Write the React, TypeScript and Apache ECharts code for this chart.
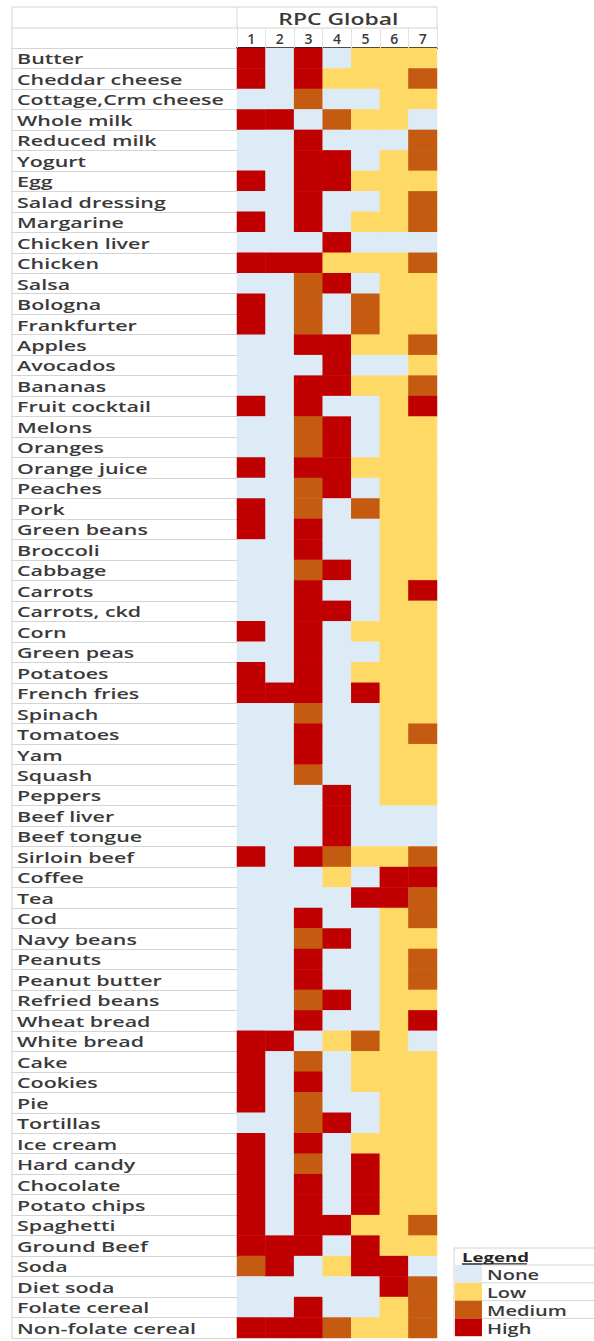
import React, { useEffect, useRef } from "react";
import * as echarts from "echarts";

// Food items, top to bottom
const foods = [
  "Butter", "Cheddar cheese", "Cottage,Crm cheese", "Whole milk", "Reduced milk",
  "Yogurt", "Egg", "Salad dressing", "Margarine", "Chicken liver",
  "Chicken", "Salsa", "Bologna", "Frankfurter", "Apples",
  "Avocados", "Bananas", "Fruit cocktail", "Melons", "Oranges",
  "Orange juice", "Peaches", "Pork", "Green beans", "Broccoli",
  "Cabbage", "Carrots", "Carrots, ckd", "Corn", "Green peas",
  "Potatoes", "French fries", "Spinach", "Tomatoes", "Yam",
  "Squash", "Peppers", "Beef liver", "Beef tongue", "Sirloin beef",
  "Coffee", "Tea", "Cod", "Navy beans", "Peanuts",
  "Peanut butter", "Refried beans", "Wheat bread", "White bread", "Cake",
  "Cookies", "Pie", "Tortillas", "Ice cream", "Hard candy",
  "Chocolate", "Potato chips", "Spaghetti", "Ground Beef", "Soda",
  "Diet soda", "Folate cereal", "Non-folate cereal",
];

const rpcColumns = ["1", "2", "3", "4", "5", "6", "7"];
const levelNames = ["None", "Low", "Medium", "High"];
const levelColors = ["#DDEBF7", "#FFD966", "#C55A11", "#C00000"];

// Level per food for each RPC column: 0 None, 1 Low, 2 Medium, 3 High
const rpc1 = [3,3,0,3,0,0,3,0,3,0, 3,0,3,3,0,0,0,3,0,0, 3,0,3,3,0,0,0,0,3,0, 3,3,0,0,0,0,0,0,0,3, 0,0,0,0,0,0,0,0,3,3, 3,3,0,3,3,3,3,3,3,2, 0,0,3];
const rpc2 = [0,0,0,3,0,0,0,0,0,0, 3,0,0,0,0,0,0,0,0,0, 0,0,0,0,0,0,0,0,0,0, 0,3,0,0,0,0,0,0,0,0, 0,0,0,0,0,0,0,0,3,0, 0,0,0,0,0,0,0,0,3,3, 0,0,3];
const rpc3 = [3,3,2,0,3,3,3,3,3,0, 3,2,2,2,3,0,3,3,2,2, 3,2,2,3,3,2,3,3,3,3, 3,3,2,3,3,2,0,0,0,3, 0,0,3,2,3,3,2,3,0,2, 3,2,2,3,2,3,3,3,3,0, 0,3,3];
const rpc4 = [0,1,0,2,0,3,3,0,0,3, 1,3,0,0,3,3,3,0,3,3, 3,3,0,0,0,3,0,3,0,0, 0,0,0,0,0,0,3,3,3,2, 1,0,0,3,0,0,3,0,1,0, 0,0,3,0,0,0,0,3,0,1, 0,0,2];
const rpc5 = [1,1,0,1,0,0,1,0,1,0, 1,0,2,2,1,0,1,0,0,0, 1,0,2,0,0,0,0,0,1,0, 1,3,0,0,0,0,0,0,0,1, 0,3,0,0,0,0,0,0,2,1, 1,0,0,1,3,3,3,1,3,3, 0,0,1];
const rpc6 = [1,1,1,1,0,1,1,1,1,0, 1,1,1,1,1,0,1,1,1,1, 1,1,1,1,1,1,1,1,1,1, 1,1,1,1,1,1,1,0,0,1, 3,3,1,1,1,1,1,1,1,1, 1,1,1,1,1,1,1,1,1,3, 3,1,1];
const rpc7 = [1,2,1,0,2,2,1,2,2,0, 2,1,1,1,2,1,2,3,1,1, 1,1,1,1,1,1,3,1,1,1, 1,1,1,2,1,1,1,0,0,2, 3,2,2,1,2,2,1,3,0,1, 1,1,1,1,1,1,1,2,1,0, 2,2,2];

const rpcValues = [rpc1, rpc2, rpc3, rpc4, rpc5, rpc6, rpc7];

const TEXT_COLOR = "#3a3a3a";
const RULE_COLOR = "#d4d4d4";
const FONT = "'Open Sans', 'DejaVu Sans', sans-serif";
const STRETCH = 1.43;

export default function App() {
  const ref = useRef<HTMLDivElement>(null);

  useEffect(() => {
    if (!ref.current) return;
    const chart = echarts.init(ref.current, null, { renderer: "svg" });

    const cells: number[][] = [];
    rpcValues.forEach((col, x) => col.forEach((v, y) => cells.push([x, y, v])));

    const gridLeft = 237;
    const gridTop = 48;
    const gridWidth = 200;
    const gridHeight = 1290;
    const tableLeft = 12;
    const tableTop = 7;
    const headerSplit = 28;

    chart.setOption({
      animation: false,
      backgroundColor: "#ffffff",
      grid: { left: gridLeft, top: gridTop, width: gridWidth, height: gridHeight },
      xAxis: {
        type: "category",
        position: "top",
        data: rpcColumns,
        axisLine: { show: true, lineStyle: { color: "#1e1e1e", width: 2 } },
        axisTick: { show: true, interval: 0, length: gridTop - headerSplit, lineStyle: { color: "#e2e2e2" } },
        axisLabel: { color: TEXT_COLOR, fontSize: 14, fontWeight: 600, fontFamily: FONT, margin: 3 },
        splitLine: { show: false },
      },
      yAxis: {
        type: "category",
        inverse: true,
        data: foods,
        axisLine: { show: true, lineStyle: { color: RULE_COLOR } },
        axisTick: { show: true, interval: 0, length: gridLeft - tableLeft, lineStyle: { color: RULE_COLOR } },
        axisLabel: { show: false },
        splitLine: { show: false },
      },
      visualMap: {
        type: "piecewise",
        show: false,
        dimension: 2,
        pieces: levelNames.map((name, i) => ({ value: i, label: name, color: levelColors[i] })),
      },
      series: [
        {
          type: "heatmap",
          data: cells,
          itemStyle: { borderWidth: 0 },
          emphasis: { disabled: true },
        },
      ],
    });

    // Row labels placed on the category positions of the y axis
    const labelTexts = foods.map((food) => {
      const y = chart.convertToPixel({ yAxisIndex: 0 }, food) as number;
      return {
        type: "text",
        x: 17,
        y,
        scaleX: STRETCH,
        silent: true,
        style: {
          text: food,
          fill: TEXT_COLOR,
          fontSize: 15,
          fontWeight: 600,
          fontFamily: FONT,
          verticalAlign: "middle",
          align: "left",
        },
      };
    });

    const headerCenter = chart.convertToPixel({ xAxisIndex: 0 }, rpcColumns[3]) as number;

    // Table frame around labels and header
    const frame = [
      { type: "line", shape: { x1: tableLeft, y1: tableTop, x2: gridLeft + gridWidth, y2: tableTop } },
      { type: "line", shape: { x1: tableLeft, y1: headerSplit, x2: gridLeft + gridWidth, y2: headerSplit } },
      { type: "line", shape: { x1: tableLeft, y1: tableTop, x2: tableLeft, y2: gridTop + gridHeight } },
      { type: "line", shape: { x1: gridLeft, y1: tableTop, x2: gridLeft, y2: headerSplit } },
      { type: "line", shape: { x1: gridLeft + gridWidth, y1: tableTop, x2: gridLeft + gridWidth, y2: headerSplit } },
    ].map((l) => ({ ...l, silent: true, style: { stroke: RULE_COLOR, lineWidth: 1 } }));

    const header = {
      type: "text",
      x: headerCenter - (82 * STRETCH) / 2,
      y: (tableTop + headerSplit) / 2 + 1,
      scaleX: STRETCH,
      silent: true,
      style: {
        text: "RPC Global",
        fill: TEXT_COLOR,
        fontSize: 16,
        fontWeight: 600,
        fontFamily: FONT,
        verticalAlign: "middle",
        align: "left",
      },
    };

    // Legend box
    const lgLeft = 454;
    const lgTop = 1248;
    const lgHeaderH = 17;
    const lgRowH = 17.8;
    const swatchW = 28;
    const lgRight = 600;
    const legendChildren: any[] = [];
    legendChildren.push({
      type: "line",
      shape: { x1: lgLeft, y1: lgTop, x2: lgRight, y2: lgTop },
      style: { stroke: RULE_COLOR, lineWidth: 1 },
    });
    legendChildren.push({
      type: "line",
      shape: { x1: lgLeft, y1: lgTop, x2: lgLeft, y2: lgTop + lgHeaderH + lgRowH * 4 },
      style: { stroke: RULE_COLOR, lineWidth: 1 },
    });
    legendChildren.push({
      type: "text",
      x: lgLeft + 8,
      y: lgTop + lgHeaderH / 2 + 1,
      scaleX: STRETCH,
      style: {
        text: "Legend",
        fill: "#262626",
        fontSize: 13,
        fontWeight: 700,
        fontFamily: FONT,
        verticalAlign: "middle",
        align: "left",
      },
    });
    legendChildren.push({
      type: "line",
      shape: { x1: lgLeft + 8, y1: lgTop + lgHeaderH - 1, x2: lgLeft + 73, y2: lgTop + lgHeaderH - 1 },
      style: { stroke: "#262626", lineWidth: 1.5 },
    });
    levelNames.forEach((name, i) => {
      const top = lgTop + lgHeaderH + i * lgRowH;
      legendChildren.push({
        type: "rect",
        shape: { x: lgLeft + 1, y: top, width: swatchW - 1, height: lgRowH },
        style: { fill: levelColors[i] },
      });
      legendChildren.push({
        type: "line",
        shape: { x1: lgLeft + swatchW, y1: top, x2: lgRight, y2: top },
        style: { stroke: RULE_COLOR, lineWidth: 1 },
      });
      legendChildren.push({
        type: "text",
        x: lgLeft + swatchW + 5,
        y: top + lgRowH / 2 + 1,
        scaleX: STRETCH,
        style: {
          text: name,
          fill: TEXT_COLOR,
          fontSize: 14,
          fontWeight: 600,
          fontFamily: FONT,
          verticalAlign: "middle",
          align: "left",
        },
      });
    });

    chart.setOption({
      graphic: [
        ...frame,
        header,
        ...labelTexts,
        { type: "group", silent: true, children: legendChildren },
      ],
    });

    return () => chart.dispose();
  }, []);

  return (
    <div
      ref={ref}
      style={{ position: "absolute", left: 0, top: 0, width: 594, height: 1341, background: "#fff" }}
    />
  );
}
